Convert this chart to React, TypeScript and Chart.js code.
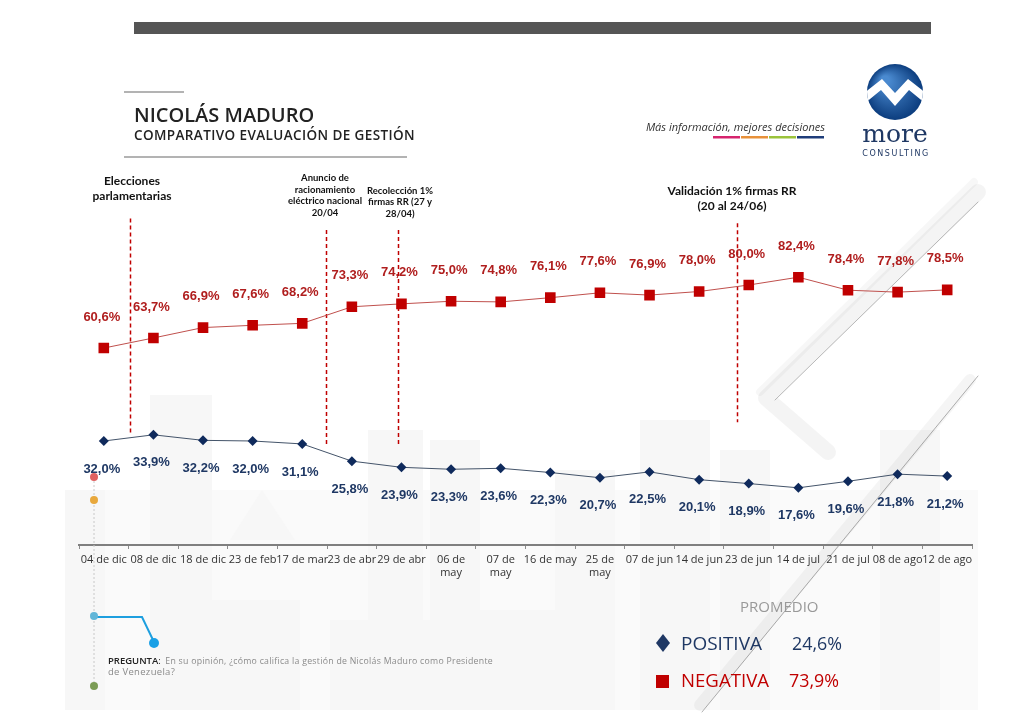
import React, { useEffect, useRef } from "react";
import { Chart, registerables } from "chart.js";

Chart.register(...registerables);

const categories: (string | string[])[] = [
  "04 de dic", "08 de dic", "18 de dic", "23 de feb", "17 de mar", "23 de abr", "29 de abr",
  ["06 de", "may"], ["07 de", "may"], "16 de may", ["25 de", "may"], "07 de jun", "14 de jun",
  "23 de jun", "14 de jul", "21 de jul", "08 de ago", "12 de ago",
];

const negativa = [60.6, 63.7, 66.9, 67.6, 68.2, 73.3, 74.2, 75.0, 74.8, 76.1, 77.6, 76.9, 78.0, 80.0, 82.4, 78.4, 77.8, 78.5];
const positiva = [32.0, 33.9, 32.2, 32.0, 31.1, 25.8, 23.9, 23.3, 23.6, 22.3, 20.7, 22.5, 20.1, 18.9, 17.6, 19.6, 21.8, 21.2];

const promedioPositiva = 24.6;
const promedioNegativa = 73.9;

// events: position on the category axis (fractional index) and text lines
const eventos = [
  { at: 0.53, from: 100.5, to: 33.8, lines: ["Elecciones", "parlamentarias"] },
  { at: 4.48, from: 96.9, to: 31.1, lines: ["Anuncio de", "racionamiento", "eléctrico nacional", "20/04"] },
  { at: 5.93, from: 96.9, to: 31.1, lines: ["Recolección 1%", "firmas RR (27 y", "28/04)"] },
  { at: 12.76, from: 99.0, to: 37.8, lines: ["Validación 1% firmas RR", "(20 al 24/06)"] },
];

const RED = "#C00000";
const NAVY = "#1F3864";
const fmt = (v: number) => v.toFixed(1).replace(".", ",") + "%";

const backgroundPlugin = {
  id: "bg",
  beforeDraw(chart: any) {
    const ctx = chart.ctx as CanvasRenderingContext2D;
    ctx.save();
    ctx.fillStyle = "#ffffff";
    ctx.fillRect(0, 0, chart.width, chart.height);
    // faint city silhouette
    ctx.fillStyle = "#fafafa";
    ctx.fillRect(65, 490, 913, 220);
    ctx.fillStyle = "#f7f7f7";
    const blds = [
      [150, 395, 62, 315], [368, 430, 55, 280], [430, 440, 50, 270], [555, 470, 60, 240],
      [640, 420, 70, 290], [720, 450, 50, 260], [880, 430, 60, 280], [65, 490, 40, 220],
      [210, 600, 90, 110], [330, 620, 100, 90], [480, 610, 120, 100],
    ];
    for (const b of blds) ctx.fillRect(b[0], b[1], b[2], b[3]);
    ctx.beginPath();
    ctx.moveTo(230, 540);
    ctx.lineTo(262, 490);
    ctx.lineTo(295, 540);
    ctx.closePath();
    ctx.fill();
    // page curl
    ctx.lineCap = "round";
    ctx.lineJoin = "round";
    ctx.strokeStyle = "rgba(0,0,0,0.045)";
    ctx.lineWidth = 16;
    ctx.beginPath();
    ctx.moveTo(978, 192);
    ctx.lineTo(766, 398);
    ctx.lineTo(828, 452);
    ctx.stroke();
    ctx.strokeStyle = "rgba(0,0,0,0.03)";
    ctx.lineWidth = 8;
    ctx.beginPath();
    ctx.moveTo(974, 182);
    ctx.lineTo(760, 392);
    ctx.stroke();
    ctx.strokeStyle = "rgba(0,0,0,0.25)";
    ctx.lineWidth = 1;
    ctx.beginPath();
    ctx.moveTo(978, 202);
    ctx.lineTo(775, 400);
    ctx.stroke();
    ctx.strokeStyle = "rgba(0,0,0,0.04)";
    ctx.lineWidth = 12;
    ctx.beginPath();
    ctx.moveTo(970, 380);
    ctx.lineTo(700, 705);
    ctx.stroke();
    ctx.strokeStyle = "rgba(0,0,0,0.3)";
    ctx.lineWidth = 1;
    ctx.beginPath();
    ctx.moveTo(978, 376);
    ctx.lineTo(702, 712);
    ctx.stroke();
    ctx.restore();
  },
  beforeDatasetsDraw(chart: any) {
    const ctx = chart.ctx as CanvasRenderingContext2D;
    const xs = chart.scales.x;
    const ys = chart.scales.y;
    ctx.save();
    ctx.strokeStyle = RED;
    ctx.lineWidth = 1.5;
    ctx.setLineDash([4, 3]);
    for (const e of eventos) {
      const x = Math.round(xs.getPixelForValue(e.at)) + 0.5;
      ctx.beginPath();
      ctx.moveTo(x, ys.getPixelForValue(e.from));
      ctx.lineTo(x, ys.getPixelForValue(e.to));
      ctx.stroke();
    }
    ctx.restore();
  },
};

const labelsPlugin = {
  id: "vlabels",
  afterDatasetsDraw(chart: any) {
    const ctx = chart.ctx as CanvasRenderingContext2D;
    ctx.save();
    ctx.font = 'bold 13px "Liberation Sans", Arial, sans-serif';
    ctx.textAlign = "center";
    ctx.textBaseline = "middle";
    chart.data.datasets.forEach((ds: any, di: number) => {
      const meta = chart.getDatasetMeta(di);
      meta.data.forEach((pt: any, i: number) => {
        const neg = ds.label === "NEGATIVA";
        ctx.fillStyle = neg ? "#B01E1E" : NAVY;
        ctx.fillText(fmt(ds.data[i]), pt.x - 2, neg ? pt.y - 31 : pt.y + 28);
      });
    });
    ctx.restore();
  },
};

const decorPlugin = {
  id: "decor",
  afterDraw(chart: any) {
    const ctx = chart.ctx as CanvasRenderingContext2D;
    ctx.save();
    // top bar
    ctx.fillStyle = "#555555";
    ctx.fillRect(134, 22, 797, 12);
    // title lines
    ctx.strokeStyle = "#9a9a9a";
    ctx.lineWidth = 1.5;
    ctx.beginPath();
    ctx.moveTo(124, 92);
    ctx.lineTo(184, 92);
    ctx.moveTo(124, 157);
    ctx.lineTo(407, 157);
    ctx.stroke();
    ctx.fillStyle = "#222";
    ctx.textBaseline = "alphabetic";
    ctx.textAlign = "left";
    ctx.font = '600 20px "Open Sans", sans-serif';
    ctx.fillText("NICOLÁS MADURO", 134, 122, 182);
    ctx.font = '600 13.5px "Open Sans", sans-serif';
    (ctx as any).letterSpacing = "0.4px";
    ctx.fillText("COMPARATIVO EVALUACIÓN DE GESTIÓN", 134, 140, 286);
    (ctx as any).letterSpacing = "0px";

    // tagline
    ctx.fillStyle = "#333";
    ctx.font = 'italic 11px "Open Sans", sans-serif';
    ctx.textAlign = "right";
    ctx.fillText("Más información, mejores decisiones", 825, 131);
    const bars = ["#d6246e", "#e8913a", "#9bc33b", "#1f3d7a"];
    bars.forEach((c, i) => {
      ctx.fillStyle = c;
      ctx.fillRect(713 + i * 28, 136, 27, 2.5);
    });

    // logo
    const cx = 895, cy = 92, r = 28;
    const g = ctx.createRadialGradient(885, 80, 4, cx, cy, r);
    g.addColorStop(0, "#4a8ad0");
    g.addColorStop(1, "#0c3d7e");
    ctx.fillStyle = g;
    ctx.beginPath();
    ctx.arc(cx, cy, r, 0, Math.PI * 2);
    ctx.fill();
    ctx.save();
    ctx.beginPath();
    ctx.arc(cx, cy, r, 0, Math.PI * 2);
    ctx.clip();
    ctx.fillStyle = "#ffffff";
    ctx.beginPath();
    ctx.moveTo(864, 93);
    ctx.lineTo(882, 79);
    ctx.lineTo(895, 93);
    ctx.lineTo(908, 79);
    ctx.lineTo(926, 93);
    ctx.lineTo(926, 104);
    ctx.lineTo(909, 90);
    ctx.lineTo(895, 106);
    ctx.lineTo(881, 90);
    ctx.lineTo(864, 104);
    ctx.closePath();
    ctx.fill();
    ctx.restore();
    ctx.fillStyle = NAVY;
    ctx.textAlign = "center";
    ctx.font = '25px "DejaVu Serif", serif';
    ctx.fillText("more", cx, 142);
    ctx.font = '8px "DejaVu Sans", sans-serif';
    (ctx as any).letterSpacing = "1.6px";
    ctx.fillText("CONSULTING", cx + 1, 156);
    (ctx as any).letterSpacing = "0px";

    // event annotations
    ctx.fillStyle = "#111";
    ctx.textAlign = "center";
    ctx.font = 'bold 12px Lato, sans-serif';
    ctx.fillText(eventos[0].lines[0], 132, 185);
    ctx.fillText(eventos[0].lines[1], 132, 200);
    ctx.font = 'bold 9.5px Lato, sans-serif';
    eventos[1].lines.forEach((l, i) => ctx.fillText(l, 325, 181 + i * 11.6));
    eventos[2].lines.forEach((l, i) => ctx.fillText(l, 400, 193.5 + i * 11.6));
    ctx.font = 'bold 12px Lato, sans-serif';
    ctx.fillText(eventos[3].lines[0], 732, 195);
    ctx.fillText(eventos[3].lines[1], 732, 210);

    // left timeline
    const tx = 94;
    ctx.strokeStyle = "#c8c8c8";
    ctx.lineWidth = 1;
    ctx.setLineDash([2, 2]);
    ctx.beginPath();
    ctx.moveTo(tx, 477);
    ctx.lineTo(tx, 686);
    ctx.stroke();
    ctx.setLineDash([]);
    const dot = (x: number, y: number, rr: number, c: string) => {
      ctx.fillStyle = c;
      ctx.beginPath();
      ctx.arc(x, y, rr, 0, Math.PI * 2);
      ctx.fill();
    };
    dot(tx, 477, 4, "#e06060");
    dot(tx, 500, 4, "#e8a83c");
    ctx.strokeStyle = "#1e9fdf";
    ctx.lineWidth = 2;
    ctx.beginPath();
    ctx.moveTo(tx, 617);
    ctx.lineTo(142, 617);
    ctx.lineTo(154, 642);
    ctx.stroke();
    dot(tx, 616, 4, "#62b6d8");
    dot(154, 643, 5, "#1aa0e6");
    dot(tx, 686, 4, "#7b9c55");

    // question
    ctx.textAlign = "left";
    ctx.font = '600 9.5px "Open Sans", sans-serif';
    ctx.fillStyle = "#222";
    ctx.fillText("PREGUNTA", 108, 664);
    const w1 = ctx.measureText("PREGUNTA").width;
    ctx.font = '9.5px "Open Sans", sans-serif';
    ctx.fillStyle = "#222";
    ctx.fillText(":", 108 + w1, 664);
    ctx.fillStyle = "#8a8a8a";
    const rest = "En su opinión, ¿cómo califica la gestión de Nicolás Maduro como Presidente";
    const st = 108 + w1 + 7;
    (ctx as any).letterSpacing = "0.3px";
    ctx.fillText(rest, st, 664, 493 - st);
    ctx.fillText("de Venezuela?", 108, 675);
    (ctx as any).letterSpacing = "0px";

    // promedio legend
    ctx.fillStyle = "#999";
    ctx.font = '15px "Open Sans", sans-serif';
    ctx.fillText("PROMEDIO", 740, 612, 86);
    ctx.font = '19px "Open Sans", sans-serif';
    ctx.fillStyle = NAVY;
    ctx.beginPath();
    ctx.moveTo(663, 634);
    ctx.lineTo(670, 643);
    ctx.lineTo(663, 652);
    ctx.lineTo(656, 643);
    ctx.closePath();
    ctx.fill();
    ctx.fillText("POSITIVA", 681, 650, 81);
    ctx.fillText(fmt(promedioPositiva), 792, 650, 50);
    ctx.fillStyle = RED;
    ctx.fillRect(656, 675, 13, 13);
    ctx.fillText("NEGATIVA", 681, 687, 88);
    ctx.fillText(fmt(promedioNegativa), 789, 687, 50);
    ctx.restore();
  },
};

export default function App() {
  const ref = useRef<HTMLCanvasElement>(null);
  useEffect(() => {
    const canvas = ref.current!;
    const chart = new Chart(canvas, {
      type: "line",
      data: {
        labels: categories as any,
        datasets: [
          {
            label: "NEGATIVA",
            data: negativa,
            borderColor: "#C0504D",
            borderWidth: 1,
            pointStyle: "rect",
            pointRadius: 7.5,
            pointBackgroundColor: RED,
            pointBorderColor: RED,
            pointBorderWidth: 0,
            tension: 0,
          },
          {
            label: "POSITIVA",
            data: positiva,
            borderColor: "#44546A",
            borderWidth: 1,
            pointStyle: "rectRot",
            pointRadius: 5,
            pointBackgroundColor: "#0F2A5C",
            pointBorderColor: "#0F2A5C",
            pointBorderWidth: 0,
            tension: 0,
          },
        ],
      },
      options: {
        responsive: false,
        animation: false,
        devicePixelRatio: 1,
        layout: { padding: { left: 79, right: 52, top: 220, bottom: 137 } },
        plugins: { legend: { display: false }, tooltip: { enabled: false } },
        scales: {
          x: {
            offset: true,
            grid: {
              display: true,
              drawOnChartArea: false,
              drawTicks: true,
              tickLength: 4,
              color: "#8c8c8c",
              offset: true,
            },
            border: { display: true, color: "#7f7f7f", width: 2 },
            ticks: {
              autoSkip: false,
              maxRotation: 0,
              minRotation: 0,
              color: "#333",
              padding: 4,
              font: { family: '"Open Sans", sans-serif', size: 11 },
            },
            afterFit: (s: any) => {
              s.height = 40;
            },
          },
          y: { display: false, min: 0, max: 100 },
        },
      },
      plugins: [backgroundPlugin, labelsPlugin, decorPlugin],
    });
    return () => chart.destroy();
  }, []);
  return (
    <div style={{ position: "absolute", left: 0, top: 0, width: 1024, height: 722 }}>
      <canvas ref={ref} width={1024} height={722} style={{ display: "block" }} />
    </div>
  );
}
